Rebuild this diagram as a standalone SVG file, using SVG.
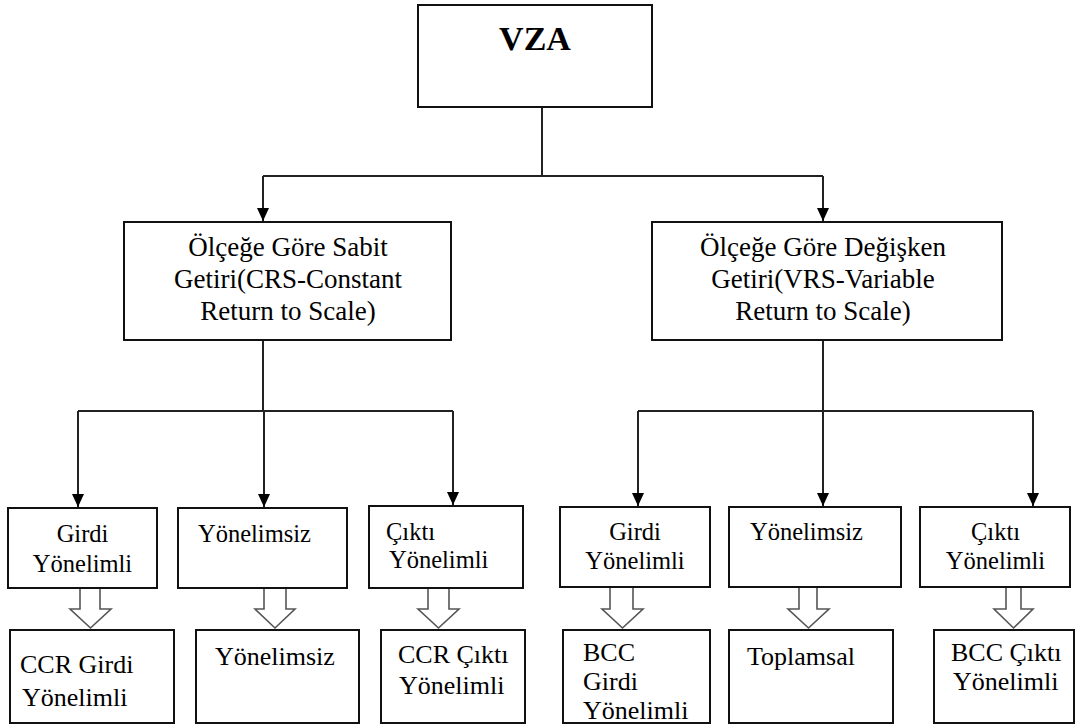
<svg xmlns="http://www.w3.org/2000/svg" width="1077" height="727" viewBox="0 0 1077 727">
<style>
.box{fill:#fff;stroke:#111;stroke-width:2}
.t{fill:#000}
.t1{font-size:27px;text-anchor:middle}
.t2{font-size:24.5px}
.t3{font-size:26px}
.c{text-anchor:middle}
.ln{fill:none;stroke:#222;stroke-width:2}
.ha{fill:#fff;stroke:#555;stroke-width:1.6;stroke-linejoin:miter}
</style>
<defs>
<marker id="ah" markerUnits="userSpaceOnUse" markerWidth="14" markerHeight="14" viewBox="0 0 14 14" refX="13" refY="7" orient="auto">
<path d="M0,1 L13,7 L0,13 Z" fill="#000"/>
</marker>
</defs>
<g id="connectors">
<path class="ln" d="M542,107 V176 M263,176 H823"/>
<path class="ln" d="M263,176 V221" marker-end="url(#ah)"/>
<path class="ln" d="M823,176 V221" marker-end="url(#ah)"/>
<path class="ln" d="M263,340 V411 M78,411 H453"/>
<path class="ln" d="M78,411 V507" marker-end="url(#ah)"/>
<path class="ln" d="M264,411 V507" marker-end="url(#ah)"/>
<path class="ln" d="M453,411 V505" marker-end="url(#ah)"/>
<path class="ln" d="M823,340 V411 M638,411 H1033"/>
<path class="ln" d="M638,411 V506" marker-end="url(#ah)"/>
<path class="ln" d="M823,411 V506" marker-end="url(#ah)"/>
<path class="ln" d="M1033,411 V506" marker-end="url(#ah)"/>
<path class="ha" d="M80,588 V609 H70 L90.5,628 L111,609 H100 V588"/>
<path class="ha" d="M264,588 V609 H255 L275,628 L295,609 H286 V588"/>
<path class="ha" d="M428,588 V609 H418 L438.5,628 L459,609 H449 V588"/>
<path class="ha" d="M610,588 V609 H602 L622.5,628 L643,609 H633 V588"/>
<path class="ha" d="M799,588 V609 H788 L808.5,628 L829,609 H817 V588"/>
<path class="ha" d="M1006,588 V609 H994 L1013.5,628 L1033,609 H1021 V588"/>
</g>
<g font-family="Liberation Serif, DejaVu Serif, serif">
<g id="vza">
<rect class="box" x="418" y="5" width="234" height="102"/>
<text class="t c" x="535" y="50" font-size="34" font-weight="bold">VZA</text>
</g>
<g id="crs">
<rect class="box" x="124" y="222" width="327" height="118"/>
<text class="t t1" x="288" y="256">Ölçeğe Göre Sabit</text>
<text class="t t1" x="288" y="288">Getiri(CRS-Constant</text>
<text class="t t1" x="288" y="320">Return to Scale)</text>
</g>
<g id="vrs">
<rect class="box" x="652" y="222" width="350" height="118"/>
<text class="t t1" x="823" y="256">Ölçeğe Göre Değişken</text>
<text class="t t1" x="823" y="288">Getiri(VRS-Variable</text>
<text class="t t1" x="823" y="320">Return to Scale)</text>
</g>
<g id="crs-girdi">
<rect class="box" x="8" y="508" width="149" height="80"/>
<text class="t t2 c" x="82.5" y="542">Girdi</text>
<text class="t t2 c" x="82.5" y="572">Yönelimli</text>
</g>
<g id="crs-yonelimsiz">
<rect class="box" x="178" y="508" width="169" height="80"/>
<text class="t t2" x="198" y="542">Yönelimsiz</text>
</g>
<g id="crs-cikti">
<rect class="box" x="369" y="506" width="154" height="82"/>
<text class="t t2" x="386" y="540">Çıktı</text>
<text class="t t2" x="389" y="568">Yönelimli</text>
</g>
<g id="ccr-girdi">
<rect class="box" x="10" y="630" width="164" height="93"/>
<text class="t t3" x="20" y="673">CCR Girdi</text>
<text class="t t3" x="22" y="706">Yönelimli</text>
</g>
<g id="ccr-yonelimsiz">
<rect class="box" x="196" y="630" width="163" height="93"/>
<text class="t t3" x="215" y="665">Yönelimsiz</text>
</g>
<g id="ccr-cikti">
<rect class="box" x="381" y="630" width="144" height="93"/>
<text class="t t3" x="398" y="663">CCR Çıktı</text>
<text class="t t3" x="399" y="694">Yönelimli</text>
</g>
<g id="vrs-girdi">
<rect class="box" x="560" y="507" width="150" height="80"/>
<text class="t t2 c" x="635" y="540">Girdi</text>
<text class="t t2 c" x="635" y="569">Yönelimli</text>
</g>
<g id="vrs-yonelimsiz">
<rect class="box" x="729" y="507" width="172" height="80"/>
<text class="t t2" x="750" y="540">Yönelimsiz</text>
</g>
<g id="vrs-cikti">
<rect class="box" x="920" y="507" width="150" height="80"/>
<text class="t t2 c" x="995.5" y="540">Çıktı</text>
<text class="t t2 c" x="995.5" y="569">Yönelimli</text>
</g>
<g id="bcc-girdi">
<rect class="box" x="563" y="630" width="147" height="93"/>
<text class="t t3" x="583" y="661">BCC</text>
<text class="t t3" x="583" y="690">Girdi</text>
<text class="t t3" x="583" y="719">Yönelimli</text>
</g>
<g id="toplamsal">
<rect class="box" x="729" y="630" width="164" height="93"/>
<text class="t t3" x="747" y="665">Toplamsal</text>
</g>
<g id="bcc-cikti">
<rect class="box" x="934" y="630" width="140" height="93"/>
<text class="t t3" x="951" y="661">BCC Çıktı</text>
<text class="t t3" x="953" y="690">Yönelimli</text>
</g>
</g>
</svg>
